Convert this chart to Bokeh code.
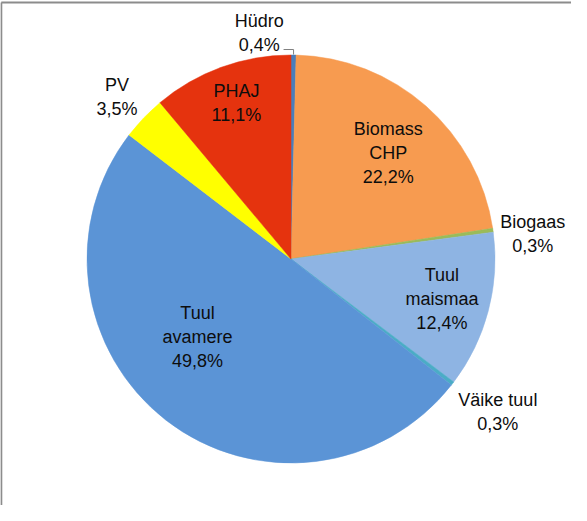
import math
from bokeh.plotting import figure
from bokeh.models import Range1d, ColumnDataSource
from bokeh.core.properties import value
from bokeh.embed import file_html
from bokeh.resources import INLINE

# ---- data ----
categories = ["Hüdro", "Biomass CHP", "Biogaas", "Tuul maismaa", "Väike tuul",
              "Tuul avamere", "PV", "PHAJ"]
label_names = ["Hüdro", "Biomass\nCHP", "Biogaas", "Tuul\nmaismaa", "Väike tuul",
               "Tuul\navamere", "PV", "PHAJ"]
shares = [0.4, 22.2, 0.3, 12.4, 0.3, 49.8, 3.5, 11.1]
colors = ["#4A7EBB", "#F79B50", "#9BBB59", "#8EB4E3", "#4BACC6",
          "#5B94D6", "#FFFF00", "#E5330E"]

# label placement (layout): clockwise angle from top in degrees, distance from centre in px
label_angle = [352, 42.5, 84.1, 104.7, 126.4, 230, 313, 340.7]
label_dist = [228, 144, 243, 156, 257, 122, 238, 165]

# ---- layout ----
W, H = 571, 505
CX, CY, R = 298.5, -266.5, 204

p = figure(width=W, height=H, x_range=Range1d(8, 8 + W), y_range=Range1d(-8 - H, -8),
           output_backend="svg", toolbar_location=None, min_border=0)
p.axis.visible = False
p.grid.visible = False
p.outline_line_color = None
p.background_fill_color = "white"
p.border_fill_color = "white"

# frame lines (left and top)
p.line([8.8, 8.8], [-8 - H, -10], line_color="#8C8C8C", line_width=2)
p.line([8.8, 8 + W], [-10, -10], line_color="#8C8C8C", line_width=2)

total = sum(shares)
starts, ends, cum = [], [], 0.0
for s in shares:
    starts.append(math.pi / 2 - 2 * math.pi * cum / total)
    cum += s
    ends.append(math.pi / 2 - 2 * math.pi * cum / total)

src = ColumnDataSource(dict(x=[CX] * len(shares), y=[CY] * len(shares),
                            start=starts, end=ends, color=colors, cat=categories))
p.wedge(x="x", y="y", radius=R, start_angle="start", end_angle="end",
        direction="clock", fill_color="color", line_color="color", line_width=0.5,
        source=src)

# leader line for Hüdro
mid0 = (starts[0] + ends[0]) / 2
ax = CX + R * math.cos(mid0)
ay = CY + R * math.sin(mid0)
p.line([ax - 10, ax, ax], [ay + 5.5, ay + 5.5, ay + 0.5], line_color="#7F7F7F", line_width=1)

lx, ly, txt = [], [], []
for name, s, a, d in zip(label_names, shares, label_angle, label_dist):
    rad = math.radians(a)
    lx.append(CX + d * math.sin(rad))
    ly.append(CY + d * math.cos(rad))
    txt.append(name + "\n" + f"{s:.1f}".replace(".", ",") + "%")

p.text(x=lx, y=ly, text=txt, text_align="center", text_baseline="middle",
       text_font=value("Liberation Sans"), text_font_size="18px",
       text_color="#0D0D0D", text_line_height=1.2)

open("out.html", "w").write(file_html(p, INLINE))
